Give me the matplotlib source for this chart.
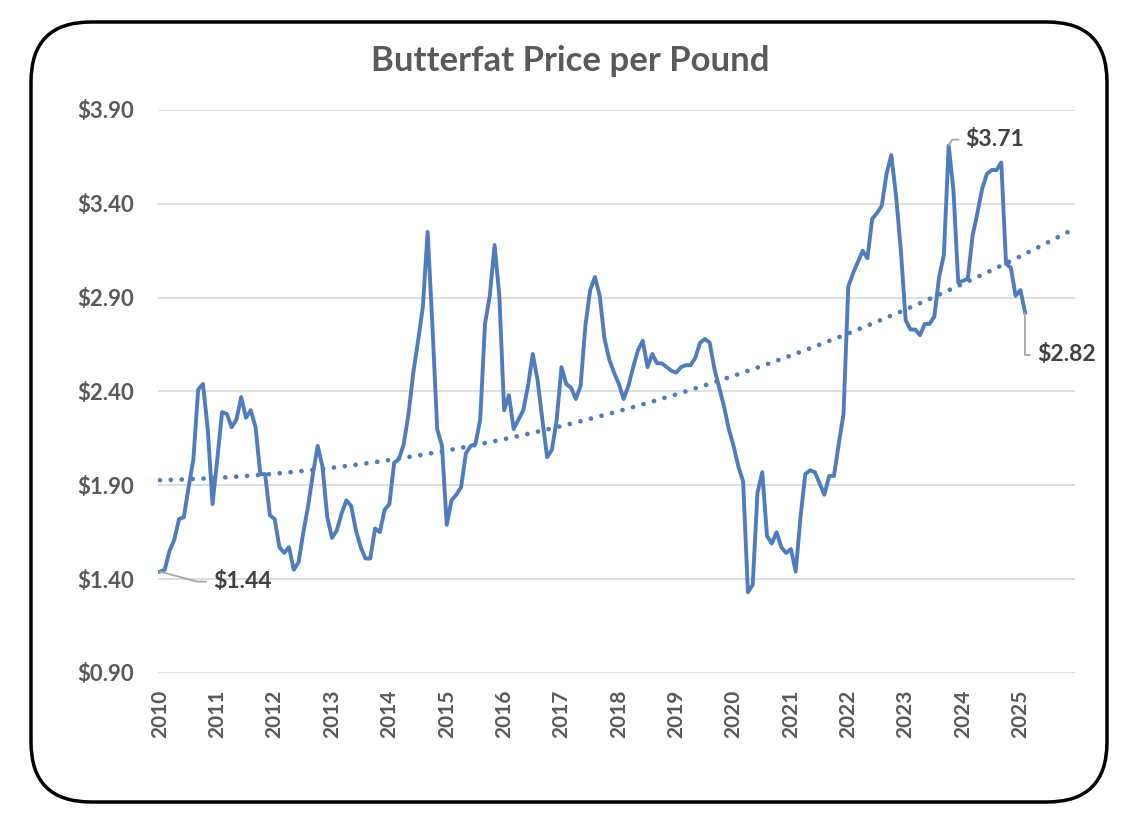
import matplotlib
matplotlib.use("Agg")
import matplotlib.pyplot as plt
from matplotlib.patches import FancyBboxPatch
import numpy as np

# monthly butterfat price, Jan 2010 .. Feb 2025
p2010 = [1.44, 1.45, 1.55, 1.61, 1.72, 1.73, 1.89, 2.04, 2.41, 2.44, 2.20, 1.80]
p2011 = [2.04, 2.29, 2.28, 2.21, 2.25, 2.37, 2.26, 2.30, 2.21, 1.96, 1.96, 1.74]
p2012 = [1.72, 1.57, 1.54, 1.57, 1.45, 1.49, 1.65, 1.79, 1.96, 2.11, 2.00, 1.73]
p2013 = [1.62, 1.66, 1.75, 1.82, 1.79, 1.66, 1.57, 1.51, 1.51, 1.67, 1.65, 1.77]
p2014 = [1.80, 2.02, 2.04, 2.12, 2.28, 2.50, 2.67, 2.85, 3.25, 2.75, 2.20, 2.11]
p2015 = [1.69, 1.82, 1.85, 1.89, 2.07, 2.11, 2.12, 2.25, 2.76, 2.91, 3.18, 2.91]
p2016 = [2.30, 2.38, 2.20, 2.25, 2.30, 2.43, 2.60, 2.46, 2.25, 2.05, 2.09, 2.25]
p2017 = [2.53, 2.44, 2.42, 2.36, 2.43, 2.75, 2.94, 3.01, 2.91, 2.68, 2.57, 2.50]
p2018 = [2.44, 2.36, 2.43, 2.53, 2.62, 2.67, 2.53, 2.60, 2.55, 2.55, 2.53, 2.51]
p2019 = [2.50, 2.53, 2.54, 2.54, 2.58, 2.66, 2.68, 2.66, 2.52, 2.42, 2.32, 2.20]
p2020 = [2.11, 2.00, 1.92, 1.33, 1.37, 1.86, 1.97, 1.63, 1.59, 1.65, 1.57, 1.54]
p2021 = [1.56, 1.44, 1.73, 1.96, 1.98, 1.97, 1.91, 1.85, 1.95, 1.95, 2.12, 2.28]
p2022 = [2.96, 3.03, 3.09, 3.15, 3.11, 3.32, 3.35, 3.39, 3.56, 3.66, 3.44, 3.15]
p2023 = [2.78, 2.73, 2.73, 2.70, 2.76, 2.76, 2.80, 3.01, 3.13, 3.71, 3.47, 2.98]
p2024 = [2.99, 3.00, 3.23, 3.35, 3.48, 3.56, 3.58, 3.58, 3.62, 3.08, 3.06, 2.91]
p2025 = [2.94, 2.82]

price = (p2010 + p2011 + p2012 + p2013 + p2014 + p2015 + p2016 + p2017 +
         p2018 + p2019 + p2020 + p2021 + p2022 + p2023 + p2024 + p2025)
years = list(range(2010, 2026))
forecast = 10  # trendline runs 10 months past the data
yticks = [0.90, 1.40, 1.90, 2.40, 2.90, 3.40, 3.90]

# labelled points: first, peak, last
lab_idx = [0, int(np.argmax(price)), len(price) - 1]

blue = '#4f7cbc'
grey = '#595959'
plt.rcParams['font.family'] = ['Lato', 'DejaVu Sans']
plt.rcParams['font.weight'] = 'bold'

fig = plt.figure(figsize=(11.4, 8.22), dpi=100)
ax = fig.add_axes([0.1382, 0.1813, 0.9433 - 0.1382, 0.8662 - 0.1813])

x = np.arange(len(price))
ax.plot(x, price, color=blue, lw=2.8, solid_joinstyle='round', zorder=3)

# polynomial trendline, as in excel
coef = np.polyfit(x, price, 2)
xt = np.arange(len(price) + forecast)
ax.plot(xt, np.polyval(coef, xt), color=blue, lw=3.4,
        linestyle=(0, (0.01, 2.3)), dash_capstyle='round', zorder=2)

ax.set_xlim(-0.5, len(price) + forecast - 0.5)
ax.set_ylim(0.9, 3.9)
ax.set_yticks(yticks)
ax.set_yticklabels(['${:.2f}'.format(v) for v in yticks])
ax.set_xticks([12 * k for k in range(len(years))])
ax.set_xticklabels([str(y) for y in years], rotation=90)
ax.tick_params(axis='y', length=0, pad=17, labelsize=16, labelcolor=grey)
ax.tick_params(axis='x', length=0, pad=12, labelsize=15, labelcolor=grey)
ax.grid(axis='y', color='#d9d9d9', lw=1.2)
ax.set_axisbelow(True)
for s in ax.spines.values():
    s.set_visible(False)

# data labels with leader lines
offs = [(53, -10), (17, 6), (12, -42)]
conns = ['angle,angleA=0,angleB=-15,rad=0',
         'angle,angleA=0,angleB=60,rad=0',
         'angle,angleA=0,angleB=90,rad=0']
for i, o, c in zip(lab_idx, offs, conns):
    ax.annotate('${:.2f}'.format(price[i]), xy=(i, price[i]), xytext=o,
                textcoords='offset pixels', ha='left', va='center',
                fontsize=16.5, color='#404040', fontweight='bold',
                arrowprops=dict(arrowstyle='-', color='#a6a6a6', lw=1.3,
                                connectionstyle=c, relpos=(0, 0.5),
                                shrinkA=3, shrinkB=0))

fig.text(0.5, 0.926, 'Butterfat Price per Pound', ha='center', va='center',
         fontsize=25, color=grey, fontweight='bold')

# rounded frame round the whole chart
W, H = 1140, 822
fr = FancyBboxPatch((31 / W, 1 - 802 / H), (1107 - 31) / W, (802 - 22) / H,
                    boxstyle='round,pad=0,rounding_size={}'.format(60 / W),
                    mutation_aspect=W / H, transform=fig.transFigure,
                    fill=False, edgecolor='black', lw=2.5)
fig.patches.append(fr)

fig.savefig('out.png', dpi=100)
